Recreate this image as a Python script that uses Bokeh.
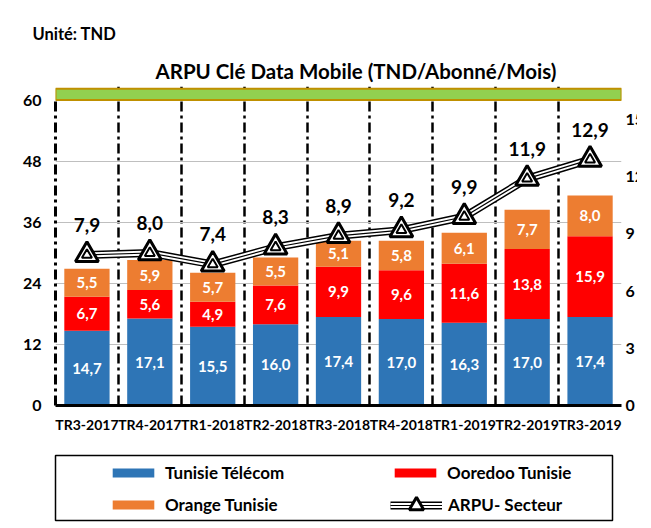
from bokeh.plotting import figure
from bokeh.models import (ColumnDataSource, Range1d, LinearAxis, FixedTicker, Title,
                          LabelSet, Legend, LegendItem)
from bokeh.layouts import column
from bokeh.core.properties import value
from bokeh.embed import file_html
from bokeh.resources import INLINE

# ---------------- data ----------------
categories = ["TR3-2017", "TR4-2017", "TR1-2018", "TR2-2018", "TR3-2018",
              "TR4-2018", "TR1-2019", "TR2-2019", "TR3-2019"]
tunisie_telecom = [14.7, 17.1, 15.5, 16.0, 17.4, 17.0, 16.3, 17.0, 17.4]
ooredoo_tunisie = [6.7, 5.6, 4.9, 7.6, 9.9, 9.6, 11.6, 13.8, 15.9]
orange_tunisie = [5.5, 5.9, 5.7, 5.5, 5.1, 5.8, 6.1, 7.7, 8.0]
arpu_secteur = [7.9, 8.0, 7.4, 8.3, 8.9, 9.2, 9.9, 11.9, 12.9]
left_ticks = [0, 12, 24, 36, 48, 60]
right_ticks = [0, 3, 6, 9, 12, 15]
left_max = 60
right_max = 16
unit_text = "Unité: TND"
title_text = "ARPU Clé Data Mobile (TND/Abonné/Mois)"
series_names = ["Tunisie Télécom", "Ooredoo Tunisie", "Orange Tunisie", "ARPU- Secteur"]

# ---------------- style ----------------
FONT = "Lato"
BLUE, RED, ORANGE = "#2e75b6", "#ff0000", "#ed7d31"
DASHDOT = "10 4 3 4"

n = len(categories)
xs = list(range(n))


def fmt(v):
    return f"{v:.1f}".replace(".", ",")


src = ColumnDataSource(dict(
    x=xs,
    tt=tunisie_telecom, oo=ooredoo_tunisie, og=orange_tunisie, sec=arpu_secteur,
    tt_mid=[a / 2 for a in tunisie_telecom],
    oo_mid=[a + b / 2 for a, b in zip(tunisie_telecom, ooredoo_tunisie)],
    og_mid=[a + b + c / 2 for a, b, c in zip(tunisie_telecom, ooredoo_tunisie, orange_tunisie)],
    tt_lbl=[fmt(v) for v in tunisie_telecom],
    oo_lbl=[fmt(v) for v in ooredoo_tunisie],
    og_lbl=[fmt(v) for v in orange_tunisie],
    sec_lbl=[fmt(v) for v in arpu_secteur],
))

FRAME_H = 319
PX_60 = 305
y_top = left_max * FRAME_H / PX_60

p = figure(frame_width=566, frame_height=FRAME_H,
           x_range=Range1d(-0.5, n - 0.5), y_range=Range1d(0, y_top),
           output_backend="svg", toolbar_location=None, title=None,
           min_border_left=45, min_border_right=24, min_border_top=86, min_border_bottom=40)
p.outline_line_color = None
p.background_fill_color = "white"
p.extra_y_ranges = {"right": Range1d(0, right_max * y_top / left_max)}

# grids
p.xgrid.ticker = FixedTicker(ticks=[i - 0.5 for i in range(n + 1)])
p.xgrid.grid_line_color = "black"
p.xgrid.grid_line_width = 2.5
p.xgrid.grid_line_dash = DASHDOT
p.ygrid.ticker = FixedTicker(ticks=left_ticks[1:-1])
p.ygrid.grid_line_color = "#bfbfbf"
p.ygrid.grid_line_width = 1

# green band above plot
p.quad(left=-0.5, right=n - 0.5, bottom=left_max + 0.1, top=y_top - 0.45,
       fill_color="#92d050", line_color="#bf9000", line_width=2)

# stacked bars
p.vbar_stack(["tt", "oo", "og"], x="x", width=0.72, source=src,
             fill_color=[BLUE, RED, ORANGE], line_color=None)

for txt, mid in [("tt_lbl", "tt_mid"), ("oo_lbl", "oo_mid"), ("og_lbl", "og_mid")]:
    p.add_layout(LabelSet(x="x", y=mid, text=txt, source=src, text_align="center",
                          text_baseline="middle", text_color="white",
                          text_font=value(FONT), text_font_size=value("15px"),
                          text_font_style="bold"))

# sector line (double line)
p.line("x", "sec", source=src, y_range_name="right", line_color="black", line_width=8)
p.line("x", "sec", source=src, y_range_name="right", line_color="white", line_width=5)
p.line("x", "sec", source=src, y_range_name="right", line_color="black", line_width=1.2)
p.scatter("x", "sec", source=src, y_range_name="right", marker="triangle", size=23,
          fill_color="white", line_color="black", line_width=3)
p.scatter("x", "sec", source=src, y_range_name="right", marker="triangle", size=10,
          fill_color="white", line_color="black", line_width=2)
p.add_layout(LabelSet(x="x", y="sec", text="sec_lbl", source=src, y_range_name="right",
                      y_offset=30, text_align="center", text_baseline="middle",
                      text_color="black", text_font=value(FONT),
                      text_font_size=value("19px"), text_font_style="bold"))

# axes
xa = p.xaxis[0]
xa.axis_label = None
xa.ticker = FixedTicker(ticks=xs)
xa.major_label_overrides = {i: c for i, c in zip(xs, categories)}
xa.axis_line_color = "black"
xa.axis_line_width = 3
xa.major_tick_line_color = None
xa.minor_tick_line_color = None
xa.major_tick_out = 0
xa.major_tick_in = 0
xa.major_label_standoff = 10
xa.major_label_text_font = FONT
xa.major_label_text_font_size = "14px"
xa.major_label_text_font_style = "bold"
xa.major_label_text_color = "black"

ya = p.yaxis[0]
ya.axis_label = None
ya.ticker = FixedTicker(ticks=left_ticks)
ya.bounds = (0, left_max)
ya.axis_line_color = "black"
ya.axis_line_width = 3
ya.axis_line_dash = DASHDOT
ya.major_tick_line_color = None
ya.minor_tick_line_color = None
ya.major_tick_out = 0
ya.major_tick_in = 0
ya.major_label_standoff = 14
ya.major_label_text_font = FONT
ya.major_label_text_font_size = "16px"
ya.major_label_text_font_style = "bold"
ya.major_label_text_color = "black"

ra = LinearAxis(y_range_name="right", ticker=FixedTicker(ticks=right_ticks), axis_label=None)
ra.axis_line_color = None
ra.major_tick_line_color = None
ra.minor_tick_line_color = None
ra.major_tick_out = 0
ra.major_tick_in = 0
ra.major_label_standoff = 4
ra.major_label_text_font = FONT
ra.major_label_text_font_size = "16px"
ra.major_label_text_font_style = "bold"
ra.major_label_text_color = "black"
p.add_layout(ra, "right")

# titles (first added sits closest to the frame)
p.add_layout(Title(text=title_text, align="left", offset=100, standoff=8,
                   text_font=FONT, text_font_size="20.5px", text_font_style="bold",
                   text_color="black"), "above")
p.add_layout(Title(text=unit_text, align="left", offset=-23, standoff=18,
                   text_font=FONT, text_font_size="16.5px", text_font_style="bold",
                   text_color="black"), "above")

# ---------------- legend figure ----------------
p2 = figure(width=645, height=81, x_range=Range1d(0, 1), y_range=Range1d(0, 1),
            output_backend="svg", toolbar_location=None, title=None,
            x_axis_type=None, y_axis_type=None,
            min_border_left=55, min_border_right=33, min_border_top=10, min_border_bottom=6)
p2.outline_line_color = "black"
p2.outline_line_width = 1.5

# legend-only renderers (zero-size, so nothing is drawn inside the box)
r_tt = p2.vbar(x=[0.5], top=[0], bottom=[0], width=0, fill_color=BLUE, line_color=None)
r_oo = p2.vbar(x=[0.5], top=[0], bottom=[0], width=0, fill_color=RED, line_color=None)
r_og = p2.vbar(x=[0.5], top=[0], bottom=[0], width=0, fill_color=ORANGE, line_color=None)
l1 = p2.line(x=[0.5], y=[0.5], line_color="black", line_width=8)
l2 = p2.line(x=[0.5], y=[0.5], line_color="white", line_width=5)
l3 = p2.line(x=[0.5], y=[0.5], line_color="black", line_width=1.2)
m1 = p2.scatter(x=[0.5], y=[0.5], size=0, marker="triangle", fill_color="white",
                line_color="black", line_width=3)


def make_legend(items, loc, gh):
    lg = Legend(items=items, location=loc, orientation="horizontal", padding=0, margin=0,
                spacing=10, glyph_width=52, glyph_height=gh, label_width=214,
                label_height=20, label_standoff=6, border_line_color=None,
                background_fill_alpha=0, label_text_font=FONT,
                label_text_font_size="17px", label_text_font_style="bold",
                label_text_color="black")
    p2.add_layout(lg)
    return lg


make_legend([LegendItem(label=series_names[0], renderers=[r_tt]),
             LegendItem(label=series_names[1], renderers=[r_oo])], (52, 37), 11)
make_legend([LegendItem(label=series_names[2], renderers=[r_og])], (52, 5.5), 11)
make_legend([LegendItem(label=series_names[3], renderers=[l1, l2, l3, m1])], (335, -2.5), 36)

layout = column(p, p2)
open("out.html", "w").write(file_html(layout, INLINE))
